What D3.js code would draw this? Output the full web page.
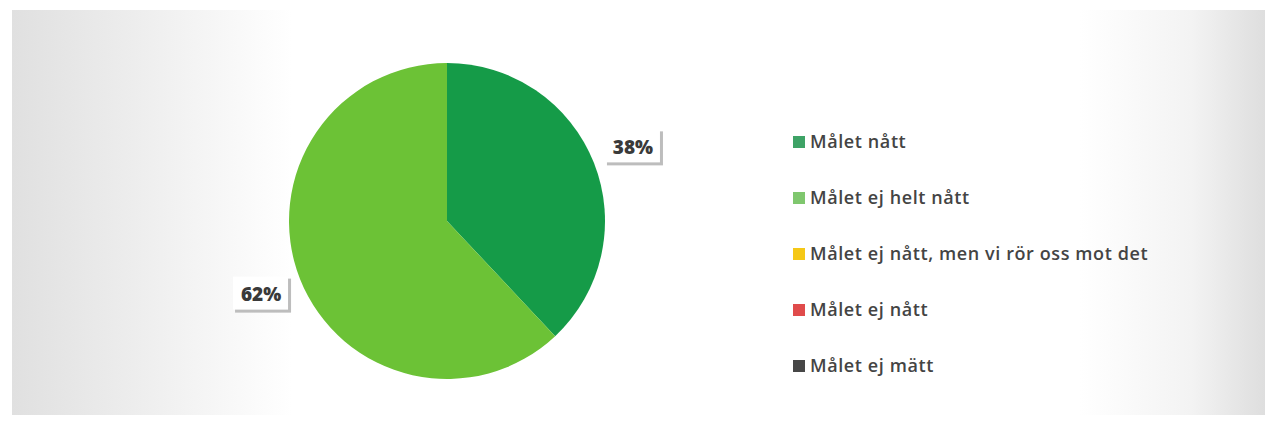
<!DOCTYPE html>
<html>
<head>
<meta charset="utf-8">
<script src="https://cdn.jsdelivr.net/npm/d3@7"></script>
<style>
  html, body { margin: 0; padding: 0; background: #fff; }
  svg { display: block; }
</style>
</head>
<body>
<svg id="chart" width="1265" height="428"></svg>
<script>
const categories = ["Målet nått", "Målet ej helt nått", "Målet ej nått, men vi rör oss mot det", "Målet ej nått", "Målet ej mätt"];
const values = [38, 62, 0, 0, 0];
const colors = ["#159b48", "#6cc236", "#f5c816", "#e04b4b", "#474747"];
const legendColors = ["#3ea366", "#7fc76e", "#f5c816", "#e04b4b", "#474747"];

const svg = d3.select("#chart");

// scan-like background shading
const defs = svg.append("defs");
const gl = defs.append("linearGradient").attr("id", "gl").attr("x1", "0").attr("x2", "1");
gl.append("stop").attr("offset", "0").attr("stop-color", "#e0e0e0");
gl.append("stop").attr("offset", "0.5").attr("stop-color", "#efefef");
gl.append("stop").attr("offset", "1").attr("stop-color", "#ffffff");
const gr = defs.append("linearGradient").attr("id", "gr").attr("x1", "0").attr("x2", "1");
gr.append("stop").attr("offset", "0").attr("stop-color", "#ffffff");
gr.append("stop").attr("offset", "0.6").attr("stop-color", "#f3f3f3");
gr.append("stop").attr("offset", "1").attr("stop-color", "#dedede");
svg.append("rect").attr("x", 12).attr("y", 10).attr("width", 280).attr("height", 405).attr("fill", "url(#gl)");
svg.append("rect").attr("x", 1080).attr("y", 10).attr("width", 185).attr("height", 405).attr("fill", "url(#gr)");

const cx = 447, cy = 221, R = 158;
const g = svg.append("g").attr("transform", `translate(${cx},${cy})`);

const pie = d3.pie().sort(null).value(d => d.v);
const data = categories.map((c, i) => ({ c, v: values[i], col: colors[i] }));
const arcs = pie(data);
const arc = d3.arc().innerRadius(0).outerRadius(R);
const labelArc = d3.arc().innerRadius(200).outerRadius(200);

g.selectAll("path.slice")
  .data(arcs.filter(d => d.data.v > 0))
  .join("path")
  .attr("class", "slice")
  .attr("d", arc)
  .attr("fill", d => d.data.col);

// data labels with shadowed boxes
const lab = g.selectAll("g.lab")
  .data(arcs.filter(d => d.data.v > 0))
  .join("g")
  .attr("class", "lab")
  .attr("transform", d => { const [x, y] = labelArc.centroid(d); return `translate(${x},${y})`; });

lab.append("rect")
  .attr("x", -26).attr("y", -16).attr("width", 56).attr("height", 34)
  .attr("fill", "#bdbdbd");
lab.append("rect")
  .attr("x", -28).attr("y", -18).attr("width", 55).attr("height", 33)
  .attr("fill", "#ffffff");
lab.append("text")
  .attr("text-anchor", "middle")
  .attr("dy", "0.35em")
  .attr("font-family", "'Open Sans', 'DejaVu Sans', sans-serif")
  .attr("font-weight", 800)
  .attr("font-size", 19)
  .attr("fill", "#3a3a3a")
  .text(d => d.data.v + "%");

// legend
const lx = 793, ly0 = 142, dy = 56;
const leg = svg.append("g");
const items = leg.selectAll("g").data(categories).join("g")
  .attr("transform", (d, i) => `translate(${lx},${ly0 + i * dy})`);
items.append("rect")
  .attr("x", 0).attr("y", -6).attr("width", 12).attr("height", 12)
  .attr("fill", (d, i) => legendColors[i]);
items.append("text")
  .attr("x", 17)
  .attr("dy", "0.35em")
  .attr("font-family", "'Open Sans', 'DejaVu Sans', sans-serif")
  .attr("font-weight", 600)
  .attr("font-size", 18)
  .attr("letter-spacing", "0.6")
  .attr("fill", "#444")
  .text(d => d);
</script>
</body>
</html>
